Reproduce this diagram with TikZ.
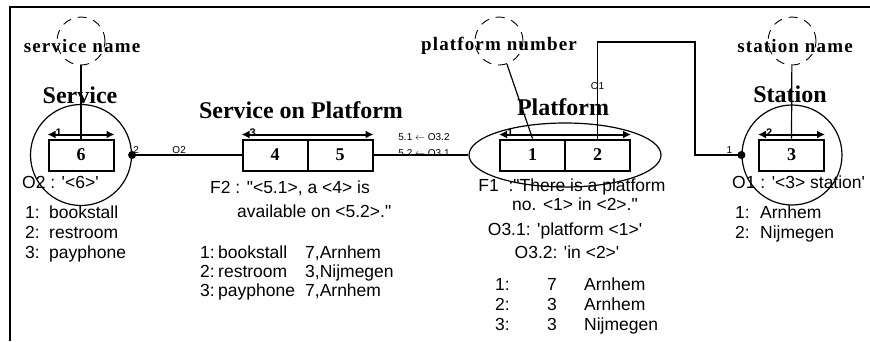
\documentclass[tikz,border=0pt]{standalone}
\usepackage{fontspec}
\setmainfont{Liberation Serif}
\newfontfamily\arial{Liberation Sans}
\newfontfamily\spaced{Liberation Serif}[LetterSpace=6]
\usepackage{array}
\usetikzlibrary{arrows.meta,shapes.geometric}

\tikzset{
  entity/.style={draw, line width=1.2pt, inner sep=0pt},
  valbox/.style={draw, line width=2pt, minimum width=65pt, minimum height=31pt, inner sep=0pt, font=\fontsize{18}{20}\selectfont\bfseries},
  uniq/.style={{Latex[length=8pt,width=8pt]}-{Latex[length=8pt,width=8pt]}, line width=2pt},
  attr/.style={draw, circle, line width=0.9pt, dash pattern=on 9pt off 7pt, minimum size=48pt, inner sep=0pt},
  attrname/.style={font=\fontsize{19}{22}\spaced\bfseries, anchor=base},
  title/.style={font=\fontsize{24}{28}\selectfont\bfseries, anchor=base},
  txt/.style={font=\fontsize{17.5}{20}\arial, anchor=base west, inner sep=0pt},
  small/.style={font=\fontsize{10}{12}\arial, inner sep=1pt},
  ulabel/.style={font=\fontsize{11}{12}\arial\bfseries, inner sep=1pt, pos=0, anchor=west, xshift=6pt, yshift=2pt},
  conn/.style={line width=1.2pt}
}

\begin{document}
\begin{tikzpicture}[x=1pt,y=-1pt]
    \useasboundingbox (0,0) rectangle (870,341);

    % Frame
    \draw[line width=1.5pt] (10,341) -- (10,7) -- (870,7);

    % Service
    \node[entity, circle, minimum size=101pt] (svc) at (81,155) {};
    \node[valbox] (sv6) at (81,155) {6};
    \draw[uniq] ([yshift=4pt]sv6.north west) -- ([yshift=4pt]sv6.north east) node[ulabel] (sv6u) {1};
    \node[title] (svtitle) at (80,103) {Service};
    \node[attr] (svname) at (81,41) {};
    \node[attrname] (svnametext) at (82,52) {service name};
    \draw[conn] (svname) -- (sv6.north);
    \node[txt] (svval) at (22,188) {O2 : '<6>'};
    \node[txt] (svlist) at (25,218) {\begin{tabular}[t]{@{}p{24pt}@{}l@{}}
      1: & bookstall\\ 2: & restroom\\ 3: & payphone\end{tabular}};

    % Service on Platform
    \node[title] (sptitle) at (301,118) {Service on Platform};
    \node[valbox] (sp4) at (275,155) {4};
    \node[valbox] (sp5) at (340,155) {5};
    \draw[uniq] ([yshift=4pt]sp4.north west) -- ([yshift=4pt]sp5.north east) node[ulabel] (spu) {3};
    \node[txt] (f2a) at (210,193) {F2 : "<5.1>, a <4> is};
    \node[txt] (f2b) at (237,217) {available on <5.2>."};
    \node[txt, font=\fontsize{17.5}{19}\arial] (splist) at (200,258) {\begin{tabular}[t]{@{}p{18pt}@{}p{87pt}@{}l@{}}
      1: & bookstall & 7,Arnhem\\ 2: & restroom & 3,Nijmegen\\ 3: & payphone & 7,Arnhem\end{tabular}};

    % Platform
    \node[entity, ellipse, minimum width=192pt, minimum height=64pt] (plat) at (565,155) {};
    \node[valbox] (pf1) at (532.5,155) {1};
    \node[valbox] (pf2) at (597.5,155) {2};
    \draw[uniq] ([yshift=4pt]pf1.north west) -- ([yshift=4pt]pf2.north east) node[ulabel] (pfu) {1};
    \node[title] (pftitle) at (563,115) {Platform};
    \node[attr] (pfnum) at (499,41) {};
    \node[attrname] (pfnumtext) at (499,50) {platform number};
    \draw[conn] (pfnum) -- (pf1.north);
    \node[txt, anchor=base] (f1a) at (572,191) {F1\ \ :"There is a platform};
    \node[txt, anchor=base] (f1b) at (575,210) {no. <1> in <2>."};
    \node[txt, anchor=base] (o31) at (565,235) {O3.1: 'platform <1>'};
    \node[txt, anchor=base] (o32) at (567,258) {O3.2: 'in <2>'};
    \node[txt] (pflist) at (495,290) {\begin{tabular}[t]{@{}p{52pt}@{}p{37pt}@{}l@{}}
      1: & 7 & Arnhem\\ 2: & 3 & Arnhem\\ 3: & 3 & Nijmegen\end{tabular}};

    % Station
    \node[entity, circle, minimum size=100pt] (stc) at (792,155) {};
    \node[valbox] (st3) at (791.5,155) {3};
    \draw[uniq] ([yshift=4pt]st3.north west) -- ([yshift=4pt]st3.north east) node[ulabel] (stu) {2};
    \node[title] (sttitle) at (790,102) {Station};
    \node[attr] (stname) at (792,41) {};
    \node[attrname] (stnametext) at (795,52) {station name};
    \draw[conn] (stname) -- (st3.north);
    \node[txt] (stval) at (732,188) {O1 : '<3> station'};
    \node[txt] (stlist) at (735,218) {\begin{tabular}[t]{@{}p{25pt}@{}l@{}}
      1: & Arnhem\\ 2: & Nijmegen\end{tabular}};

    % Role connectors
    \fill (svc.east) circle (4pt);
    \node[small, anchor=south west] (svdot) at (svc.east) {2};
    \draw[conn] (svc.east) -- (sp4.west) node[small, pos=0.43, above] (o2lbl) {O2};
    \draw[conn] (sp5.east) -- (plat.west);
    \node[small, anchor=base] (map1) at (424,140) {5.1 $\leftarrow$ O3.2};
    \node[small, anchor=base] (map2) at (424,156) {5.2 $\leftarrow$ O3.1};
    \coordinate (o1bend) at (695,42);
    \draw[conn] (pf2.north) -- node[small, pos=0.54] (o1lbl) {O1} (pf2.north |- o1bend) -- (o1bend) |- (stc.west);
    \fill (stc.west) circle (4pt);
    \node[small, anchor=south east, xshift=-8pt] (stdot) at (stc.west) {1};
\end{tikzpicture}
\end{document}
